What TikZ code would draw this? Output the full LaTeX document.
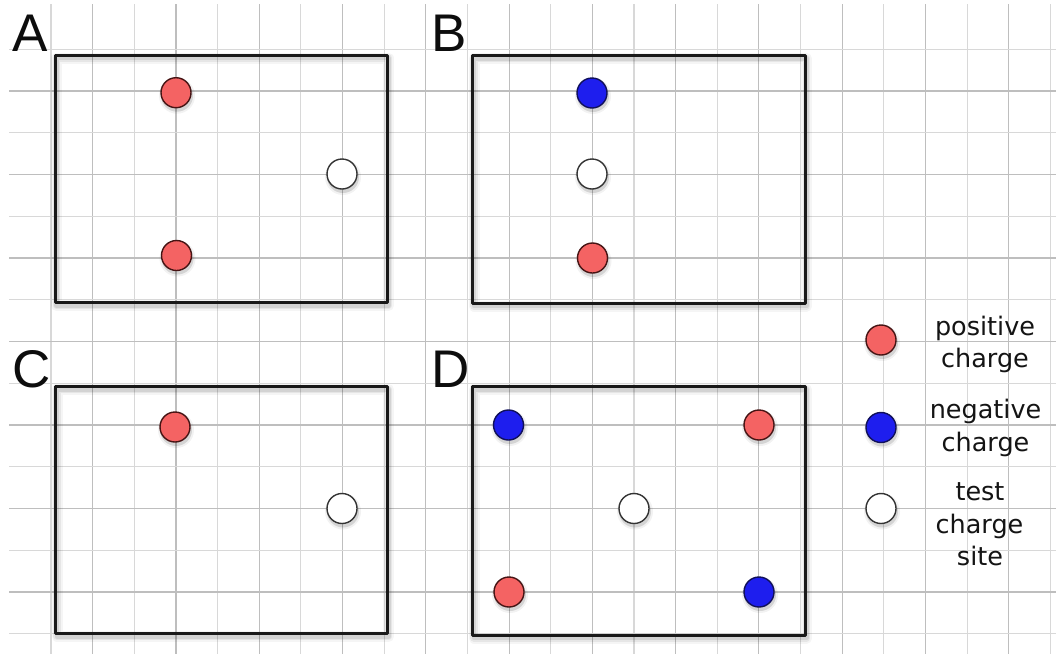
\documentclass[tikz,border=0pt]{standalone}
\usepackage{fontspec}
\newfontfamily\lettfont{Liberation Sans}
\newfontfamily\legfont{DejaVu Sans}
\definecolor{poscol}{RGB}{244,99,99}
\definecolor{posedge}{RGB}{70,20,20}
\definecolor{negcol}{RGB}{30,30,238}
\definecolor{negedge}{RGB}{16,16,90}
\definecolor{gridlt}{RGB}{216,216,216}
\definecolor{griddk}{RGB}{190,190,190}
\begin{document}
\begin{tikzpicture}[x=1pt,y=-1pt,
  gridlight/.style={draw=gridlt, line width=1.1pt},
  griddark/.style={draw=griddk, line width=1.1pt},
  panel/.style={draw=black!90, line width=3pt, line join=round},
  pshadow/.style={draw=black, line join=round},
  chargebase/.style={circle, minimum size=30pt, inner sep=0pt, line width=1.4pt},
  poscharge/.style={chargebase, fill=poscol, draw=posedge},
  negcharge/.style={chargebase, fill=negcol, draw=negedge},
  testcharge/.style={chargebase, fill=white, draw=black!80},
  cshadow/.style={circle, minimum size=32pt, inner sep=0pt, fill=black, opacity=0.12},
  letter/.style={font=\lettfont\fontsize{53}{53}\selectfont, anchor=base west, inner sep=0pt, text=black!95},
  legtext/.style={font=\legfont\fontsize{25.5}{30}\selectfont, anchor=base, inner sep=0pt, text=black!92}
]
\useasboundingbox[fill=white] (0,0) rectangle (1056,654);
% grid
\foreach \k in {1,3,...,25} \draw[gridlight] ({9.4+41.64*\k},4) -- ({9.4+41.64*\k},654);
\foreach \k in {2,4,...,24} \draw[griddark] ({9.4+41.64*\k},4) -- ({9.4+41.64*\k},654);
\foreach \j in {1,3,...,15} \draw[gridlight] (9,{7.5+41.75*\j}) -- (1056,{7.5+41.75*\j});
\foreach \j in {2,4,...,14} \draw[griddark] (9,{7.5+41.75*\j}) -- (1056,{7.5+41.75*\j});
% panel shadows
\foreach \a/\b/\c/\d in {55/55/387/302.5, 472.5/55.5/805/303, 55.5/386.5/387/633.5, 472.5/386.5/805/635}{
  \draw[pshadow, line width=11pt, opacity=0.04] ({\a+1.5},{\b+3}) rectangle ({\c+1.5},{\d+3});
  \draw[pshadow, line width=7.5pt, opacity=0.06] ({\a+1.5},{\b+3}) rectangle ({\c+1.5},{\d+3});
  \draw[pshadow, line width=4.5pt, opacity=0.08] ({\a+1.5},{\b+3}) rectangle ({\c+1.5},{\d+3});
}
% panels
\draw[panel] (55,55) rectangle (387,302.5);
\draw[panel] (472.5,55.5) rectangle (805,303);
\draw[panel] (55.5,386.5) rectangle (387,633.5);
\draw[panel] (472.5,386.5) rectangle (805,635);
% letters
\node[letter] (lA) at (12.5,51) {A};
\node[letter] (lB) at (431,51) {B};
\node[letter] (lC) at (12.5,387.5) {C};
\node[letter] (lD) at (431,387.5) {D};
% charge shadows
\foreach \px/\py in {176/92.7, 342/174, 176.5/255.5, 592/93, 592/174, 592.5/258, 175/427, 342/508.5, 508.5/425, 759/425, 634/508.5, 509/592, 759/592, 881/340, 881/427.5, 881/508.5}{
  \node[cshadow] at ({\px+1},{\py+3}) {};
  \node[cshadow, minimum size=36pt, opacity=0.05] at ({\px+1},{\py+3}) {};
}
% panel A
\node[poscharge] (a1) at (176,92.7) {};
\node[testcharge] (a2) at (342,174) {};
\node[poscharge] (a3) at (176.5,255.5) {};
% panel B
\node[negcharge] (b1) at (592,93) {};
\node[testcharge] (b2) at (592,174) {};
\node[poscharge] (b3) at (592.5,258) {};
% panel C
\node[poscharge] (c1) at (175,427) {};
\node[testcharge] (c2) at (342,508.5) {};
% panel D
\node[negcharge] (d1) at (508.5,425) {};
\node[poscharge] (d2) at (759,425) {};
\node[testcharge] (d3) at (634,508.5) {};
\node[poscharge] (d4) at (509,592) {};
\node[negcharge] (d5) at (759,592) {};
% legend
\node[poscharge] (k1) at (881,340) {};
\node[negcharge] (k2) at (881,427.5) {};
\node[testcharge] (k3) at (881,508.5) {};
\node[legtext] (t1a) at (985,335) {positive};
\node[legtext] (t1b) at (985,367) {charge};
\node[legtext] (t2a) at (985.5,418.5) {negative};
\node[legtext] (t2b) at (985.5,451) {charge};
\node[legtext] (t3a) at (980,500.5) {test};
\node[legtext] (t3b) at (979.5,533) {charge};
\node[legtext] (t3c) at (980,565) {site};
\end{tikzpicture}
\end{document}
